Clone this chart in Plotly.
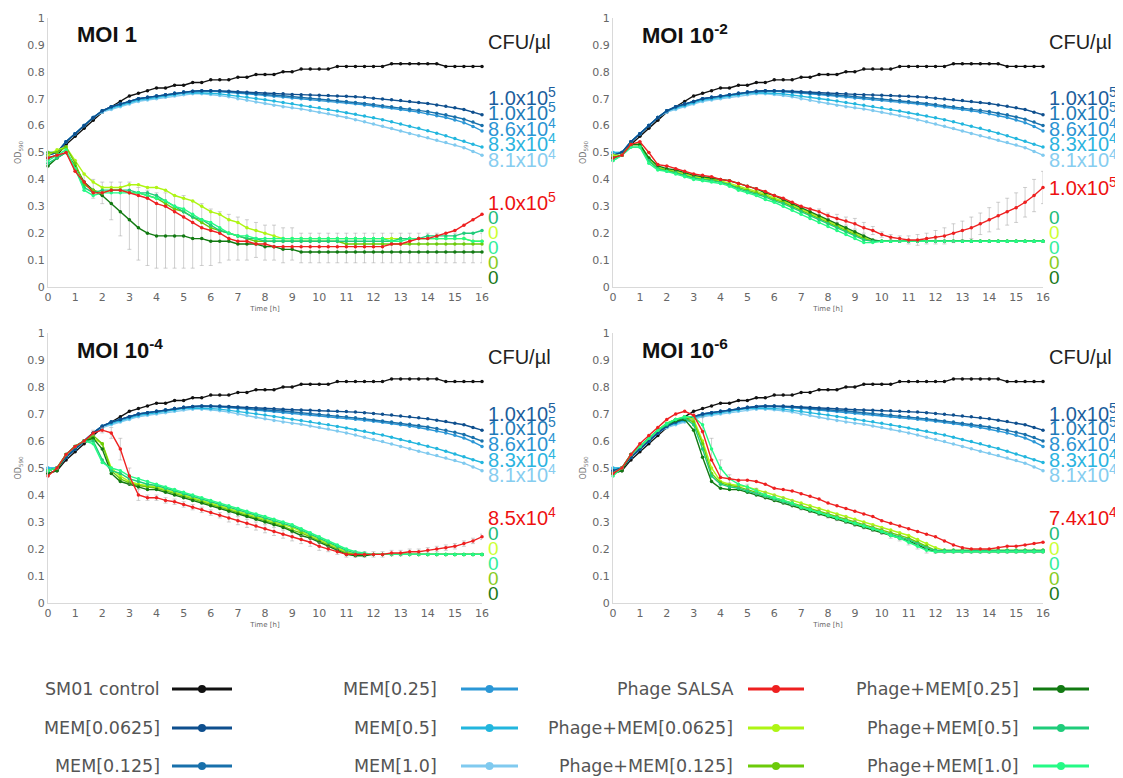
import plotly.graph_objects as go

# ---------------- data ----------------
TIME_H = [0, 0.333, 0.667, 1, 1.333, 1.667, 2,
          2.333, 2.667, 3, 3.333, 3.667, 4, 4.333,
          4.667, 5, 5.333, 5.667, 6, 6.333, 6.667,
          7, 7.333, 7.667, 8, 8.333, 8.667, 9,
          9.333, 9.667, 10, 10.333, 10.667, 11, 11.333,
          11.667, 12, 12.333, 12.667, 13, 13.333, 13.667,
          14, 14.333, 14.667, 15, 15.333, 15.667, 16]
X_TICKS = list(range(0, 17))
Y_TICKS = [0, 0.1, 0.2, 0.3, 0.4, 0.5, 0.6, 0.7, 0.8, 0.9, 1]
Y_TICKTEXT = ["0", "0.1", "0.2", "0.3", "0.4", "0.5", "0.6", "0.7", "0.8", "0.9", "1"]

CONTROL = [0.48, 0.49, 0.53, 0.56, 0.59, 0.62, 0.65,
           0.67, 0.69, 0.71, 0.72, 0.73, 0.74, 0.74,
           0.75, 0.75, 0.76, 0.76, 0.77, 0.77, 0.77,
           0.78, 0.78, 0.79, 0.79, 0.79, 0.80, 0.80,
           0.81, 0.81, 0.81, 0.81, 0.82, 0.82, 0.82,
           0.82, 0.82, 0.82, 0.83, 0.83, 0.83, 0.83,
           0.83, 0.83, 0.82, 0.82, 0.82, 0.82, 0.82]

MEM_0625 = [0.49, 0.50, 0.54, 0.57, 0.60, 0.63, 0.655,
            0.67, 0.68, 0.69, 0.70, 0.705, 0.71, 0.715,
            0.72, 0.725, 0.728, 0.73, 0.73, 0.73, 0.728,
            0.726, 0.724, 0.722, 0.72, 0.719, 0.718, 0.716,
            0.715, 0.714, 0.713, 0.712, 0.71, 0.709, 0.707,
            0.705, 0.702, 0.699, 0.696, 0.693, 0.69, 0.686,
            0.682, 0.677, 0.672, 0.666, 0.66, 0.65, 0.64]
MEM_125 = [0.49, 0.50, 0.54, 0.57, 0.60, 0.63, 0.655,
           0.67, 0.68, 0.69, 0.70, 0.705, 0.71, 0.715,
           0.72, 0.725, 0.728, 0.73, 0.73, 0.728, 0.726,
           0.723, 0.72, 0.718, 0.716, 0.713, 0.711, 0.708,
           0.705, 0.702, 0.699, 0.696, 0.693, 0.69, 0.686,
           0.682, 0.678, 0.674, 0.67, 0.666, 0.662, 0.657,
           0.652, 0.646, 0.64, 0.632, 0.624, 0.613, 0.60]
MEM_25 = [0.49, 0.50, 0.54, 0.57, 0.60, 0.63, 0.655,
          0.67, 0.68, 0.69, 0.70, 0.705, 0.71, 0.715,
          0.72, 0.723, 0.726, 0.728, 0.728, 0.726, 0.724,
          0.721, 0.718, 0.715, 0.712, 0.709, 0.706, 0.703,
          0.70, 0.697, 0.694, 0.691, 0.688, 0.685, 0.681,
          0.677, 0.673, 0.669, 0.665, 0.66, 0.655, 0.65,
          0.644, 0.637, 0.63, 0.621, 0.611, 0.597, 0.58]
MEM_5 = [0.50, 0.50, 0.54, 0.57, 0.60, 0.63, 0.655,
         0.665, 0.675, 0.685, 0.695, 0.70, 0.705, 0.71,
         0.715, 0.72, 0.722, 0.722, 0.72, 0.718, 0.714,
         0.71, 0.706, 0.701, 0.696, 0.691, 0.686, 0.681,
         0.676, 0.671, 0.666, 0.66, 0.654, 0.648, 0.642,
         0.636, 0.629, 0.622, 0.614, 0.606, 0.598, 0.59,
         0.581, 0.572, 0.562, 0.552, 0.542, 0.531, 0.52]
MEM_1 = [0.50, 0.50, 0.54, 0.57, 0.60, 0.63, 0.65,
         0.66, 0.67, 0.68, 0.69, 0.695, 0.70, 0.705,
         0.71, 0.715, 0.718, 0.718, 0.716, 0.712, 0.707,
         0.70, 0.694, 0.688, 0.682, 0.676, 0.67, 0.666,
         0.662, 0.656, 0.65, 0.644, 0.637, 0.63, 0.622,
         0.614, 0.606, 0.598, 0.589, 0.58, 0.571, 0.562,
         0.555, 0.546, 0.537, 0.528, 0.518, 0.504, 0.49]

# ---- MOI 1 ----
MOI1_SALSA = [0.48, 0.49, 0.50, 0.43, 0.39, 0.35, 0.35,
              0.36, 0.36, 0.35, 0.34, 0.33, 0.31, 0.30,
              0.28, 0.26, 0.24, 0.22, 0.21, 0.20, 0.18,
              0.17, 0.17, 0.16, 0.16, 0.15, 0.15, 0.15,
              0.15, 0.15, 0.15, 0.15, 0.15, 0.15, 0.15,
              0.15, 0.15, 0.15, 0.16, 0.16, 0.17, 0.18,
              0.18, 0.19, 0.20, 0.21, 0.23, 0.25, 0.27]
MOI1_P0625 = [0.49, 0.51, 0.52, 0.47, 0.42, 0.39, 0.37,
              0.37, 0.37, 0.38, 0.38, 0.37, 0.37, 0.36,
              0.34, 0.33, 0.32, 0.30, 0.28, 0.27, 0.25,
              0.24, 0.22, 0.21, 0.20, 0.19, 0.18, 0.18,
              0.18, 0.18, 0.18, 0.18, 0.18, 0.18, 0.18,
              0.18, 0.18, 0.18, 0.18, 0.18, 0.18, 0.18,
              0.18, 0.18, 0.18, 0.18, 0.18, 0.17, 0.17]
MOI1_P125 = [0.50, 0.50, 0.52, 0.46, 0.38, 0.36, 0.35,
             0.36, 0.36, 0.35, 0.35, 0.34, 0.33, 0.31,
             0.29, 0.28, 0.26, 0.24, 0.22, 0.21, 0.20,
             0.19, 0.18, 0.17, 0.17, 0.17, 0.17, 0.17,
             0.17, 0.17, 0.17, 0.17, 0.17, 0.16, 0.16,
             0.16, 0.16, 0.16, 0.16, 0.16, 0.16, 0.16,
             0.16, 0.16, 0.16, 0.16, 0.16, 0.16, 0.16]
MOI1_P25 = [0.45, 0.48, 0.50, 0.45, 0.39, 0.36, 0.34,
            0.31, 0.28, 0.25, 0.22, 0.20, 0.19, 0.19,
            0.19, 0.19, 0.18, 0.18, 0.17, 0.17, 0.17,
            0.16, 0.16, 0.16, 0.15, 0.15, 0.14, 0.14,
            0.13, 0.13, 0.13, 0.13, 0.13, 0.13, 0.13,
            0.13, 0.13, 0.13, 0.13, 0.13, 0.13, 0.13,
            0.13, 0.13, 0.13, 0.13, 0.13, 0.13, 0.13]
MOI1_P5 = [0.46, 0.48, 0.50, 0.44, 0.37, 0.35, 0.36,
           0.36, 0.36, 0.36, 0.35, 0.35, 0.34, 0.32,
           0.30, 0.28, 0.26, 0.25, 0.23, 0.21, 0.20,
           0.19, 0.18, 0.18, 0.17, 0.17, 0.17, 0.17,
           0.17, 0.17, 0.17, 0.17, 0.17, 0.17, 0.17,
           0.17, 0.17, 0.17, 0.17, 0.18, 0.18, 0.18,
           0.19, 0.19, 0.19, 0.19, 0.20, 0.20, 0.21]
MOI1_P1 = [0.47, 0.49, 0.51, 0.44, 0.36, 0.34, 0.35,
           0.35, 0.35, 0.35, 0.35, 0.34, 0.33, 0.32,
           0.30, 0.29, 0.27, 0.25, 0.24, 0.22, 0.20,
           0.19, 0.19, 0.18, 0.18, 0.18, 0.18, 0.18,
           0.18, 0.18, 0.18, 0.18, 0.18, 0.18, 0.18,
           0.18, 0.18, 0.18, 0.17, 0.17, 0.18, 0.18,
           0.18, 0.18, 0.18, 0.18, 0.18, 0.17, 0.17]
MOI1_P25_ERR_PLUS = [0, 0, 0, 0.02, 0.03, 0.04, 0.05,
                     0.08, 0.11, 0.14, 0.15, 0.16, 0.16, 0.16,
                     0.15, 0.15, 0.14, 0.13, 0.12, 0.11, 0.10,
                     0.10, 0.09, 0.08, 0.08, 0.08, 0.08, 0.08,
                     0.07, 0.07, 0.07, 0.07, 0.07, 0.07, 0.07,
                     0.07, 0.07, 0.07, 0.07, 0.07, 0.07, 0.07,
                     0.07, 0.07, 0.07, 0.07, 0.07, 0.07, 0.07]
MOI1_P25_ERR_MINUS = [0, 0, 0, 0.02, 0.03, 0.03, 0.03,
                      0.06, 0.09, 0.11, 0.12, 0.12, 0.12, 0.12,
                      0.12, 0.12, 0.11, 0.10, 0.09, 0.08, 0.07,
                      0.06, 0.06, 0.05, 0.05, 0.05, 0.05, 0.04,
                      0.04, 0.04, 0.04, 0.04, 0.04, 0.04, 0.04,
                      0.04, 0.04, 0.04, 0.04, 0.04, 0.04, 0.04,
                      0.04, 0.04, 0.04, 0.04, 0.04, 0.04, 0.04]

# ---- MOI 10^-2 ----
MOI2_SALSA = [0.48, 0.49, 0.53, 0.54, 0.50, 0.455, 0.45,
              0.44, 0.43, 0.42, 0.415, 0.41, 0.40, 0.395,
              0.385, 0.375, 0.365, 0.355, 0.34, 0.33, 0.315,
              0.30, 0.29, 0.28, 0.265, 0.255, 0.245, 0.235,
              0.22, 0.21, 0.195, 0.185, 0.18, 0.175, 0.175,
              0.18, 0.185, 0.19, 0.20, 0.21, 0.22, 0.235,
              0.25, 0.265, 0.28, 0.295, 0.315, 0.34, 0.37]
MOI2_P0625 = [0.49, 0.49, 0.53, 0.53, 0.48, 0.445, 0.435,
              0.43, 0.42, 0.41, 0.405, 0.40, 0.395, 0.385,
              0.375, 0.365, 0.355, 0.345, 0.33, 0.32, 0.305,
              0.29, 0.275, 0.26, 0.245, 0.23, 0.215, 0.20,
              0.185, 0.17, 0.17, 0.17, 0.17, 0.17, 0.17,
              0.17, 0.17, 0.17, 0.17, 0.17, 0.17, 0.17,
              0.17, 0.17, 0.17, 0.17, 0.17, 0.17, 0.17]
MOI2_P125 = [0.48, 0.49, 0.53, 0.53, 0.47, 0.44, 0.435,
             0.425, 0.415, 0.405, 0.40, 0.40, 0.39, 0.38,
             0.37, 0.36, 0.35, 0.34, 0.325, 0.315, 0.30,
             0.285, 0.27, 0.255, 0.24, 0.225, 0.21, 0.195,
             0.18, 0.17, 0.17, 0.17, 0.17, 0.17, 0.17,
             0.17, 0.17, 0.17, 0.17, 0.17, 0.17, 0.17,
             0.17, 0.17, 0.17, 0.17, 0.17, 0.17, 0.17]
MOI2_P25 = [0.48, 0.49, 0.53, 0.53, 0.48, 0.45, 0.44,
            0.435, 0.425, 0.415, 0.41, 0.405, 0.40, 0.395,
            0.385, 0.375, 0.365, 0.35, 0.34, 0.325, 0.31,
            0.295, 0.28, 0.265, 0.25, 0.235, 0.22, 0.205,
            0.19, 0.175, 0.17, 0.17, 0.17, 0.17, 0.17,
            0.17, 0.17, 0.17, 0.17, 0.17, 0.17, 0.17,
            0.17, 0.17, 0.17, 0.17, 0.17, 0.17, 0.17]
MOI2_P5 = [0.47, 0.49, 0.52, 0.52, 0.47, 0.44, 0.43,
           0.425, 0.415, 0.405, 0.40, 0.395, 0.39, 0.38,
           0.365, 0.355, 0.345, 0.335, 0.32, 0.31, 0.295,
           0.28, 0.265, 0.25, 0.235, 0.22, 0.205, 0.19,
           0.175, 0.17, 0.17, 0.17, 0.17, 0.17, 0.17,
           0.17, 0.17, 0.17, 0.17, 0.17, 0.17, 0.17,
           0.17, 0.17, 0.17, 0.17, 0.17, 0.17, 0.17]
MOI2_P1 = [0.47, 0.49, 0.52, 0.52, 0.46, 0.435, 0.43,
           0.42, 0.41, 0.40, 0.395, 0.39, 0.385, 0.375,
           0.36, 0.35, 0.34, 0.325, 0.315, 0.30, 0.285,
           0.27, 0.255, 0.24, 0.225, 0.21, 0.195, 0.18,
           0.165, 0.165, 0.17, 0.17, 0.17, 0.17, 0.17,
           0.17, 0.17, 0.17, 0.17, 0.17, 0.17, 0.17,
           0.17, 0.17, 0.17, 0.17, 0.17, 0.17, 0.17]
MOI2_SALSA_ERR = [0, 0, 0, 0, 0, 0, 0,
                  0, 0, 0, 0, 0, 0, 0,
                  0, 0, 0, 0, 0, 0, 0,
                  0, 0, 0.01, 0.01, 0.015, 0.015, 0.02,
                  0.02, 0.015, 0.01, 0.01, 0.01, 0.015, 0.02,
                  0.02, 0.025, 0.03, 0.035, 0.035, 0.04, 0.04,
                  0.045, 0.05, 0.05, 0.055, 0.055, 0.06, 0.06]

# ---- MOI 10^-4 ----
MOI4_SALSA = [0.47, 0.50, 0.55, 0.58, 0.60, 0.63, 0.64,
              0.63, 0.57, 0.47, 0.40, 0.39, 0.39, 0.38,
              0.375, 0.365, 0.355, 0.345, 0.335, 0.325, 0.315,
              0.305, 0.295, 0.285, 0.275, 0.265, 0.255, 0.245,
              0.235, 0.225, 0.21, 0.20, 0.19, 0.18, 0.18,
              0.18, 0.18, 0.18, 0.185, 0.185, 0.19, 0.19,
              0.195, 0.20, 0.205, 0.21, 0.22, 0.23, 0.245]
MOI4_P0625 = [0.49, 0.50, 0.55, 0.58, 0.60, 0.61, 0.59,
              0.50, 0.47, 0.45, 0.44, 0.435, 0.43, 0.42,
              0.41, 0.40, 0.39, 0.38, 0.37, 0.36, 0.35,
              0.34, 0.33, 0.32, 0.31, 0.30, 0.29, 0.28,
              0.265, 0.25, 0.235, 0.22, 0.205, 0.19, 0.18,
              0.18, 0.18, 0.18, 0.18, 0.18, 0.18, 0.18,
              0.18, 0.18, 0.18, 0.18, 0.18, 0.18, 0.18]
MOI4_P125 = [0.49, 0.50, 0.55, 0.58, 0.60, 0.62, 0.59,
             0.49, 0.46, 0.445, 0.435, 0.43, 0.425, 0.415,
             0.405, 0.395, 0.385, 0.375, 0.365, 0.355, 0.345,
             0.335, 0.325, 0.315, 0.305, 0.295, 0.285, 0.27,
             0.26, 0.245, 0.23, 0.215, 0.20, 0.185, 0.18,
             0.18, 0.18, 0.18, 0.18, 0.18, 0.18, 0.18,
             0.18, 0.18, 0.18, 0.18, 0.18, 0.18, 0.18]
MOI4_P25 = [0.48, 0.49, 0.55, 0.58, 0.60, 0.61, 0.57,
            0.48, 0.45, 0.44, 0.43, 0.42, 0.42, 0.41,
            0.40, 0.39, 0.38, 0.37, 0.36, 0.35, 0.34,
            0.33, 0.32, 0.31, 0.30, 0.29, 0.28, 0.265,
            0.25, 0.24, 0.225, 0.21, 0.195, 0.18, 0.175,
            0.175, 0.18, 0.18, 0.18, 0.18, 0.18, 0.18,
            0.18, 0.18, 0.18, 0.18, 0.18, 0.18, 0.18]
MOI4_P5 = [0.49, 0.50, 0.55, 0.58, 0.60, 0.60, 0.53,
           0.49, 0.48, 0.46, 0.45, 0.44, 0.435, 0.425,
           0.415, 0.405, 0.395, 0.385, 0.375, 0.365, 0.355,
           0.345, 0.335, 0.325, 0.315, 0.305, 0.295, 0.285,
           0.27, 0.255, 0.24, 0.225, 0.21, 0.195, 0.185,
           0.18, 0.18, 0.18, 0.18, 0.18, 0.18, 0.18,
           0.18, 0.18, 0.18, 0.18, 0.18, 0.18, 0.18]
MOI4_P1 = [0.49, 0.50, 0.55, 0.58, 0.60, 0.59, 0.52,
           0.50, 0.49, 0.47, 0.46, 0.45, 0.44, 0.43,
           0.42, 0.41, 0.40, 0.39, 0.38, 0.37, 0.36,
           0.35, 0.34, 0.33, 0.32, 0.31, 0.30, 0.29,
           0.275, 0.26, 0.245, 0.23, 0.215, 0.20, 0.19,
           0.185, 0.18, 0.18, 0.18, 0.18, 0.18, 0.18,
           0.18, 0.18, 0.18, 0.18, 0.18, 0.18, 0.18]
MOI4_SALSA_ERR = [0, 0, 0, 0, 0, 0.01, 0.01,
                  0.02, 0.04, 0.03, 0.02, 0.01, 0.01, 0.01,
                  0.01, 0.01, 0.01, 0.01, 0.01, 0.01, 0.015,
                  0.015, 0.015, 0.015, 0.015, 0.015, 0.015, 0.015,
                  0.015, 0.015, 0.015, 0.01, 0.01, 0.01, 0.01,
                  0.01, 0.01, 0.01, 0.01, 0.01, 0.01, 0.01,
                  0.01, 0.01, 0.01, 0.01, 0.01, 0.01, 0.01]

# ---- MOI 10^-6 ----
MOI6_SALSA = [0.48, 0.50, 0.55, 0.59, 0.62, 0.65, 0.68,
              0.70, 0.71, 0.695, 0.635, 0.53, 0.465, 0.46,
              0.455, 0.455, 0.45, 0.44, 0.425, 0.42, 0.415,
              0.405, 0.395, 0.385, 0.37, 0.36, 0.35, 0.34,
              0.33, 0.32, 0.305, 0.295, 0.285, 0.275, 0.265,
              0.255, 0.245, 0.23, 0.215, 0.205, 0.20, 0.20,
              0.20, 0.205, 0.21, 0.21, 0.215, 0.22, 0.225]
MOI6_P0625 = [0.48, 0.50, 0.55, 0.58, 0.61, 0.64, 0.665,
              0.68, 0.69, 0.68, 0.60, 0.50, 0.45, 0.44,
              0.435, 0.43, 0.42, 0.41, 0.40, 0.39, 0.38,
              0.37, 0.36, 0.35, 0.34, 0.33, 0.32, 0.31,
              0.30, 0.29, 0.28, 0.27, 0.26, 0.25, 0.235,
              0.22, 0.205, 0.195, 0.195, 0.195, 0.195, 0.195,
              0.195, 0.195, 0.195, 0.195, 0.195, 0.195, 0.195]
MOI6_P125 = [0.48, 0.50, 0.55, 0.58, 0.61, 0.64, 0.665,
             0.68, 0.685, 0.67, 0.59, 0.48, 0.445, 0.435,
             0.43, 0.42, 0.41, 0.40, 0.39, 0.38, 0.37,
             0.36, 0.35, 0.34, 0.33, 0.32, 0.31, 0.30,
             0.29, 0.28, 0.27, 0.26, 0.25, 0.24, 0.225,
             0.21, 0.195, 0.195, 0.195, 0.195, 0.195, 0.195,
             0.195, 0.195, 0.195, 0.195, 0.195, 0.195, 0.195]
MOI6_P25 = [0.48, 0.49, 0.55, 0.58, 0.61, 0.64, 0.66,
            0.675, 0.68, 0.64, 0.54, 0.45, 0.425, 0.42,
            0.42, 0.41, 0.40, 0.39, 0.38, 0.37, 0.36,
            0.35, 0.34, 0.33, 0.32, 0.31, 0.30, 0.29,
            0.28, 0.27, 0.26, 0.25, 0.24, 0.23, 0.215,
            0.20, 0.19, 0.19, 0.19, 0.19, 0.19, 0.19,
            0.19, 0.19, 0.19, 0.19, 0.19, 0.19, 0.19]
MOI6_P5 = [0.48, 0.50, 0.55, 0.58, 0.61, 0.64, 0.66,
           0.68, 0.685, 0.66, 0.57, 0.47, 0.44, 0.43,
           0.425, 0.415, 0.405, 0.395, 0.385, 0.375, 0.365,
           0.355, 0.345, 0.335, 0.325, 0.315, 0.305, 0.295,
           0.285, 0.275, 0.265, 0.255, 0.245, 0.235, 0.22,
           0.205, 0.195, 0.195, 0.195, 0.195, 0.195, 0.195,
           0.195, 0.195, 0.195, 0.195, 0.195, 0.195, 0.195]
MOI6_P1 = [0.47, 0.50, 0.55, 0.58, 0.61, 0.64, 0.665,
           0.68, 0.69, 0.69, 0.66, 0.57, 0.50, 0.46,
           0.44, 0.43, 0.415, 0.40, 0.39, 0.38, 0.37,
           0.355, 0.345, 0.335, 0.325, 0.315, 0.305, 0.295,
           0.285, 0.275, 0.265, 0.25, 0.24, 0.225, 0.21,
           0.195, 0.19, 0.19, 0.19, 0.19, 0.19, 0.19,
           0.19, 0.19, 0.19, 0.19, 0.19, 0.19, 0.19]
MOI6_P1_ERR = [0, 0, 0, 0, 0, 0, 0,
               0, 0, 0.01, 0.03, 0.04, 0.03, 0.015,
               0.01, 0.01, 0.01, 0.01, 0.01, 0.01, 0.01,
               0.01, 0.01, 0.01, 0.01, 0.01, 0.01, 0.01,
               0.01, 0.01, 0.01, 0.01, 0.01, 0.01, 0.01,
               0.01, 0.005, 0.005, 0.005, 0.005, 0.005, 0.005,
               0.005, 0.005, 0.005, 0.005, 0.005, 0.005, 0.005]

# labels
PANEL_TITLES = ["MOI 1", "MOI 10<sup>-2</sup>", "MOI 10<sup>-4</sup>", "MOI 10<sup>-6</sup>"]
MEM_CFU_LABELS = ["1.0x10<sup>5</sup>", "1.0x10<sup>5</sup>", "8.6x10<sup>4</sup>",
                  "8.3x10<sup>4</sup>", "8.1x10<sup>4</sup>"]
SALSA_CFU_LABELS = ["1.0x10<sup>5</sup>", "1.0x10<sup>5</sup>", "8.5x10<sup>4</sup>", "7.4x10<sup>4</sup>"]
ZERO_LABELS = ["0", "0", "0", "0", "0"]

SERIES_NAMES = ["SM01 control", "MEM[0.0625]", "MEM[0.125]", "MEM[0.25]", "MEM[0.5]", "MEM[1.0]",
                "Phage SALSA", "Phage+MEM[0.0625]", "Phage+MEM[0.125]",
                "Phage+MEM[0.25]", "Phage+MEM[0.5]", "Phage+MEM[1.0]"]

# ---------------- style ----------------
COLORS = {
    "SM01 control": "#111111",
    "MEM[0.0625]": "#0e4f8e",
    "MEM[0.125]": "#1870ab",
    "MEM[0.25]": "#2b97d6",
    "MEM[0.5]": "#22b6de",
    "MEM[1.0]": "#80caef",
    "Phage SALSA": "#ee2020",
    "Phage+MEM[0.0625]": "#aef514",
    "Phage+MEM[0.125]": "#6ccb0a",
    "Phage+MEM[0.25]": "#127a12",
    "Phage+MEM[0.5]": "#1fcc7a",
    "Phage+MEM[1.0]": "#25fa85",
}
MEM_LABEL_COLORS = ["#1b5d9c", "#1f7bb8", "#2b94d3", "#2bb4df", "#86cdf0"]
ZERO_LABEL_COLORS = ["#22bb77", "#ccff33", "#33ee99", "#88cc22", "#1a7a1a"]
MEM_LABEL_Y = [0.707, 0.652, 0.593, 0.537, 0.478]
ZERO_LABEL_Y = [0.258, 0.203, 0.146, 0.090, 0.035]
SALSA_LABEL_Y = [0.318, 0.375, 0.322, 0.319]

# page pixels -> figure (page has an 8px body margin at top-left)
OFF = 8
W, H = 1123 - OFF, 778 - OFF


def px(x):
    return (x - OFF) / W


def py(y):
    return 1 - (y - OFF) / H


X_DOMAINS = [(px(48), px(482)), (px(613), px(1043))]
Y_DOMAINS = [(py(287), py(18)), (py(603), py(333))]

panels = [
    dict(phage=[MOI1_SALSA, MOI1_P0625, MOI1_P125, MOI1_P25, MOI1_P5, MOI1_P1],
         err={3: (MOI1_P25_ERR_PLUS, MOI1_P25_ERR_MINUS)}),
    dict(phage=[MOI2_SALSA, MOI2_P0625, MOI2_P125, MOI2_P25, MOI2_P5, MOI2_P1],
         err={0: (MOI2_SALSA_ERR, MOI2_SALSA_ERR)}),
    dict(phage=[MOI4_SALSA, MOI4_P0625, MOI4_P125, MOI4_P25, MOI4_P5, MOI4_P1],
         err={0: (MOI4_SALSA_ERR, MOI4_SALSA_ERR)}),
    dict(phage=[MOI6_SALSA, MOI6_P0625, MOI6_P125, MOI6_P25, MOI6_P5, MOI6_P1],
         err={5: (MOI6_P1_ERR, MOI6_P1_ERR)}),
]
MEM_SERIES = [MEM_0625, MEM_125, MEM_25, MEM_5, MEM_1]

fig = go.Figure()
tick_font = dict(family="DejaVu Sans", size=11, color="#666666")
label_font = "Liberation Sans, Arial, sans-serif"

annotations = []
for k, p in enumerate(panels):
    ax = "" if k == 0 else str(k + 1)
    xref, yref = "x" + ax, "y" + ax
    col, row = k % 2, k // 2
    fig.update_layout(**{
        "xaxis" + ax: dict(domain=X_DOMAINS[col], anchor=yref, range=[0, 16],
                           tickvals=X_TICKS, showline=True, linecolor="#d9d9d9", linewidth=1,
                           showgrid=False, zeroline=False, ticks="", tickfont=tick_font,
                           automargin=False,
                           title=dict(text="Time [h]", font=dict(family="DejaVu Sans", size=7, color="#666666"),
                                      standoff=2)),
        "yaxis" + ax: dict(domain=Y_DOMAINS[row], anchor=xref, range=[0, 1],
                           tickvals=Y_TICKS, ticktext=Y_TICKTEXT, showline=True, linecolor="#d9d9d9",
                           linewidth=1, showgrid=False, zeroline=False, ticks="", tickfont=tick_font,
                           automargin=False,
                           title=dict(text="OD<sub>590</sub>", font=dict(family="DejaVu Sans", size=8, color="#777777"),
                                      standoff=4)),
    })

    def add(y, name, err=None, width=1.4, size=3.5):
        tr = dict(x=TIME_H, y=y, mode="lines+markers", name=name, showlegend=False,
                  line=dict(color=COLORS[name], width=width),
                  marker=dict(color=COLORS[name], size=size),
                  xaxis=xref, yaxis=yref, cliponaxis=False)
        if err is not None:
            tr["error_y"] = dict(type="data", symmetric=False, array=err[0], arrayminus=err[1],
                                 color="rgba(150,150,150,0.45)", thickness=1, width=2)
        fig.add_trace(go.Scatter(**tr))

    add(CONTROL, "SM01 control")
    for i in reversed(range(5)):
        add(MEM_SERIES[i], SERIES_NAMES[1 + i])
    phage_order = [3, 1, 2, 4, 5, 0] if k == 0 else [1, 2, 3, 4, 5, 0]
    for i in phage_order:
        add(p["phage"][i], SERIES_NAMES[6 + i], err=p["err"].get(i))

    # annotations
    annotations.append(dict(x=1.0, y=0.94, xref=xref, yref=yref, text="<b>" + PANEL_TITLES[k] + "</b>",
                            showarrow=False, xanchor="left", yanchor="middle",
                            font=dict(family=label_font, size=22, color="#111111")))
    annotations.append(dict(x=16, y=0.912, xref=xref, yref=yref, text="CFU/µl", showarrow=False,
                            xanchor="left", yanchor="middle", xshift=4,
                            font=dict(family=label_font, size=20, color="#222222")))
    for j in range(5):
        annotations.append(dict(x=16, y=MEM_LABEL_Y[j], xref=xref, yref=yref, text=MEM_CFU_LABELS[j],
                                showarrow=False, xanchor="left", yanchor="middle", xshift=4,
                                font=dict(family=label_font, size=20, color=MEM_LABEL_COLORS[j])))
    annotations.append(dict(x=16, y=SALSA_LABEL_Y[k], xref=xref, yref=yref, text=SALSA_CFU_LABELS[k],
                            showarrow=False, xanchor="left", yanchor="middle", xshift=4,
                            font=dict(family=label_font, size=20, color="#ee1111")))
    for j in range(5):
        annotations.append(dict(x=16, y=ZERO_LABEL_Y[j], xref=xref, yref=yref, text=ZERO_LABELS[j],
                                showarrow=False, xanchor="left", yanchor="middle", xshift=4,
                                font=dict(family=label_font, size=19, color=ZERO_LABEL_COLORS[j])))

# ---------------- manual legend (text left of symbol) ----------------
LEG_TEXT_RIGHT = [162, 439, 735, 1021]
LEG_LINE = [(172, 232), (461, 518), (748, 804), (1033, 1089)]
LEG_ROW_Y = [689, 728, 766]
shapes = []
for idx, name in enumerate(SERIES_NAMES):
    c, r = idx // 3, idx % 3
    yp = py(LEG_ROW_Y[r])
    annotations.append(dict(x=px(LEG_TEXT_RIGHT[c]), y=yp, xref="paper", yref="paper", text=name,
                            showarrow=False, xanchor="right", yanchor="middle",
                            font=dict(family="DejaVu Sans", size=17.5, color="#555555")))
    x0, x1 = LEG_LINE[c]
    shapes.append(dict(type="line", xref="paper", yref="paper", x0=px(x0), x1=px(x1), y0=yp, y1=yp,
                       line=dict(color=COLORS[name], width=3)))
    xm = (x0 + x1) / 2
    shapes.append(dict(type="circle", xref="paper", yref="paper", x0=px(xm - 4), x1=px(xm + 4),
                       y0=yp - 4 / H, y1=yp + 4 / H, fillcolor=COLORS[name],
                       line=dict(color=COLORS[name], width=0)))

fig.update_layout(width=W, height=H, margin=dict(l=0, r=0, t=0, b=0),
                  paper_bgcolor="white", plot_bgcolor="white",
                  annotations=annotations, shapes=shapes, showlegend=False)

fig.write_html("out.html")
